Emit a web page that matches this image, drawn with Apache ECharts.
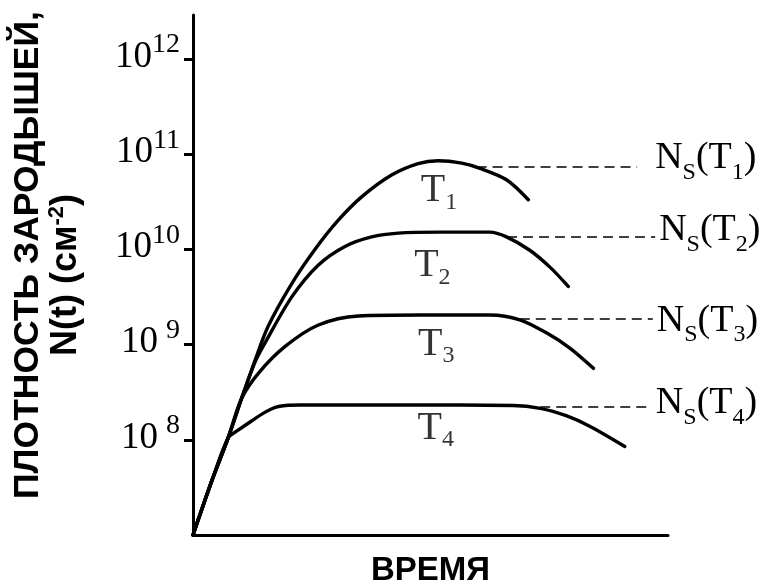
<!DOCTYPE html>
<html><head><meta charset="utf-8">
<script src="https://cdn.jsdelivr.net/npm/echarts@6/dist/echarts.min.js"></script>
<style>html,body{margin:0;padding:0;background:#fff}#c{width:769px;height:588px}</style>
</head><body><div id="c"></div>
<script>
// Time (arbitrary units, 0..100) and log10 of nucleus density N(t)
const time1 = [0, 3.9, 7.4, 10.2, 13.1, 15.8, 20.8, 25.7, 30.5, 35.5, 41.8, 47.4, 51.6, 56.6, 60.4, 66.0, 70.6];
const logN1 = [7.00, 7.56, 8.02, 8.43, 8.84, 9.19, 9.64, 10.00, 10.30, 10.55, 10.78, 10.90, 10.93, 10.905, 10.85, 10.73, 10.52];

const time2 = [0, 3.9, 7.4, 10.2, 13.1, 15.2, 20.8, 26.4, 32.0, 37.6, 43.2, 52.0, 62.5, 66.0, 70.9, 75.2, 79.0];
const logN2 = [7.00, 7.56, 8.02, 8.43, 8.82, 9.02, 9.50, 9.835, 10.03, 10.13, 10.17, 10.18, 10.18, 10.13, 9.99, 9.81, 9.61];

const time3 = [0, 3.9, 7.4, 10.2, 13.8, 19.4, 26.4, 34.8, 48.0, 62.5, 68.8, 74.5, 79.4, 84.3];
const logN3 = [7.00, 7.56, 8.02, 8.43, 8.70, 8.98, 9.205, 9.30, 9.31, 9.31, 9.26, 9.12, 8.96, 8.75];

const time4 = [0, 3.9, 7.4, 9.5, 12.4, 15.2, 17.3, 19.5, 22.5, 45.0, 67.4, 73.1, 78.7, 83.6, 90.9];
const logN4 = [7.00, 7.56, 8.02, 8.10, 8.20, 8.29, 8.34, 8.36, 8.365, 8.365, 8.36, 8.33, 8.25, 8.14, 7.93];

// Saturation densities N_S(T_i) (log10) and the time span of their dashed guide lines
const curveNames = ['1', '2', '3', '4'];
const nsLog = [10.866, 10.129, 9.275, 8.347];
const nsFrom = [59.7, 66.1, 68.8, 73.1];
const nsTo = [93.5, 97.3, 96.8, 96.6];

// Y tick exponents
const tickExp = [8, 9, 10, 11, 12];

const times = [time1, time2, time3, time4];
const logs = [logN1, logN2, logN3, logN4];

const SERIF = '"Liberation Serif", "DejaVu Serif", serif';
const SANS = '"Liberation Sans", Arial, sans-serif';

const subRich = {
  m: { fontFamily: SERIF, fontSize: 38, lineHeight: 38, verticalAlign: 'top', color: '#000' },
  s: { fontFamily: SERIF, fontSize: 24, lineHeight: 45, verticalAlign: 'bottom', color: '#000' }
};
const tRich = {
  m: { fontFamily: SERIF, fontSize: 40, lineHeight: 40, verticalAlign: 'top', color: '#000' },
  s: { fontFamily: SERIF, fontSize: 24, lineHeight: 43.5, verticalAlign: 'bottom', color: '#000' }
};

// T label anchors (data coords) per curve
const tLabelPos = [[51.8, 10.594], [50.4, 9.808], [51.2, 8.987], [51.1, 8.102]];
const nsLabelPad = [[0, 0, 10, 0], [0, 0, 6, 0], [12, 0, 0, 0], [0, 0, 0, 0]];
const nsLabelDist = [18, 4, 4, 4];

const series = [];
for (let i = 0; i < 4; i++) {
  const lv = Math.pow(10, nsLog[i]);
  series.push({
    type: 'line',
    name: 'T' + curveNames[i],
    data: times[i].map((t, k) => [t, Math.pow(10, logs[i][k])]),
    showSymbol: false,
    smooth: 0.3,
    clip: false,
    lineStyle: { color: '#000', width: 3.4, cap: 'round', join: 'round' },
    z: 3,
    markLine: {
      silent: true,
      symbol: ['none', 'none'],
      animation: false,
      lineStyle: { type: [10, 6], color: '#000', width: 1.6 },
      label: {
        show: true,
        position: 'end',
        distance: nsLabelDist[i],
        padding: nsLabelPad[i],
        formatter: '{m|N}{s|S}{m|(T}{s|' + curveNames[i] + '}{m|)}',
        rich: subRich
      },
      data: [[{ coord: [nsFrom[i], lv] }, { coord: [nsTo[i], lv] }]]
    }
  });
}
series.push({
  type: 'scatter',
  symbolSize: 1,
  itemStyle: { color: 'rgba(0,0,0,0)' },
  silent: true,
  data: tLabelPos.map((p, i) => [p[0], Math.pow(10, p[1]), curveNames[i]]),
  label: {
    show: true,
    position: 'inside',
    formatter: (p) => '{m|T}{s|' + p.value[2] + '}',
    rich: tRich
  },
  z: 4
});

const chart = echarts.init(document.getElementById('c'), null, { renderer: 'canvas' });
chart.setOption({
  animation: false,
  backgroundColor: '#fff',
  grid: { left: 193, right: 101, top: 15, bottom: 53, containLabel: false, outerBoundsMode: 'none' },
  xAxis: {
    type: 'value',
    min: 0, max: 100,
    name: 'ВРЕМЯ',
    nameLocation: 'middle',
    nameGap: 19,
    nameTextStyle: { fontFamily: SANS, fontWeight: 'bold', fontSize: 33, lineHeight: 33, color: '#000' },
    axisLine: { show: true, lineStyle: { color: '#000', width: 3 } },
    axisTick: { show: false },
    axisLabel: { show: false },
    splitLine: { show: false }
  },
  yAxis: {
    type: 'log',
    logBase: 10,
    min: 1e7,
    max: Math.pow(10, 12.46),
    name: '{a|ПЛОТНОСТЬ ЗАРОДЫШЕЙ,}\n{c|N(t) (см}{p|-2}{c|)}',
    nameLocation: 'middle',
    nameGap: 107,
    nameTextStyle: {
      color: '#000',
      rich: {
        a: { fontFamily: SANS, fontWeight: 'bold', fontSize: 35.5, lineHeight: 36, padding: [0, 0, 0, 40], color: '#000' },
        c: { fontFamily: SANS, fontWeight: 'bold', fontSize: 36, lineHeight: 40, color: '#000' },
        p: { fontFamily: SANS, fontWeight: 'bold', fontSize: 22, lineHeight: 22, verticalAlign: 'top', color: '#000' }
      }
    },
    axisLine: { show: true, lineStyle: { color: '#000', width: 3 } },
    axisTick: { show: true, length: 9, lineStyle: { color: '#000', width: 3 },
      customValues: tickExp.map(e => Math.pow(10, e)) },
    axisLabel: {
      show: true,
      margin: 13,
      padding: [0, 0, 11, 0],
      customValues: tickExp.map(e => Math.pow(10, e)),
      formatter: (v) => {
        const e = Math.round(Math.log10(v));
        return '{b|10}{' + (e < 10 ? 'g' : 'u') + '|' + e + '}';
      },
      rich: {
        b: { fontFamily: SERIF, fontSize: 37, lineHeight: 44.5, verticalAlign: 'bottom', color: '#000' },
        u: { fontFamily: SERIF, fontSize: 28, lineHeight: 28, verticalAlign: 'top', color: '#000' },
        g: { fontFamily: SERIF, fontSize: 28, lineHeight: 28, verticalAlign: 'top', padding: [0, 0, 0, 8], color: '#000' }
      }
    },
    splitLine: { show: false }
  },
  series: series
});
</script>
</body></html>
